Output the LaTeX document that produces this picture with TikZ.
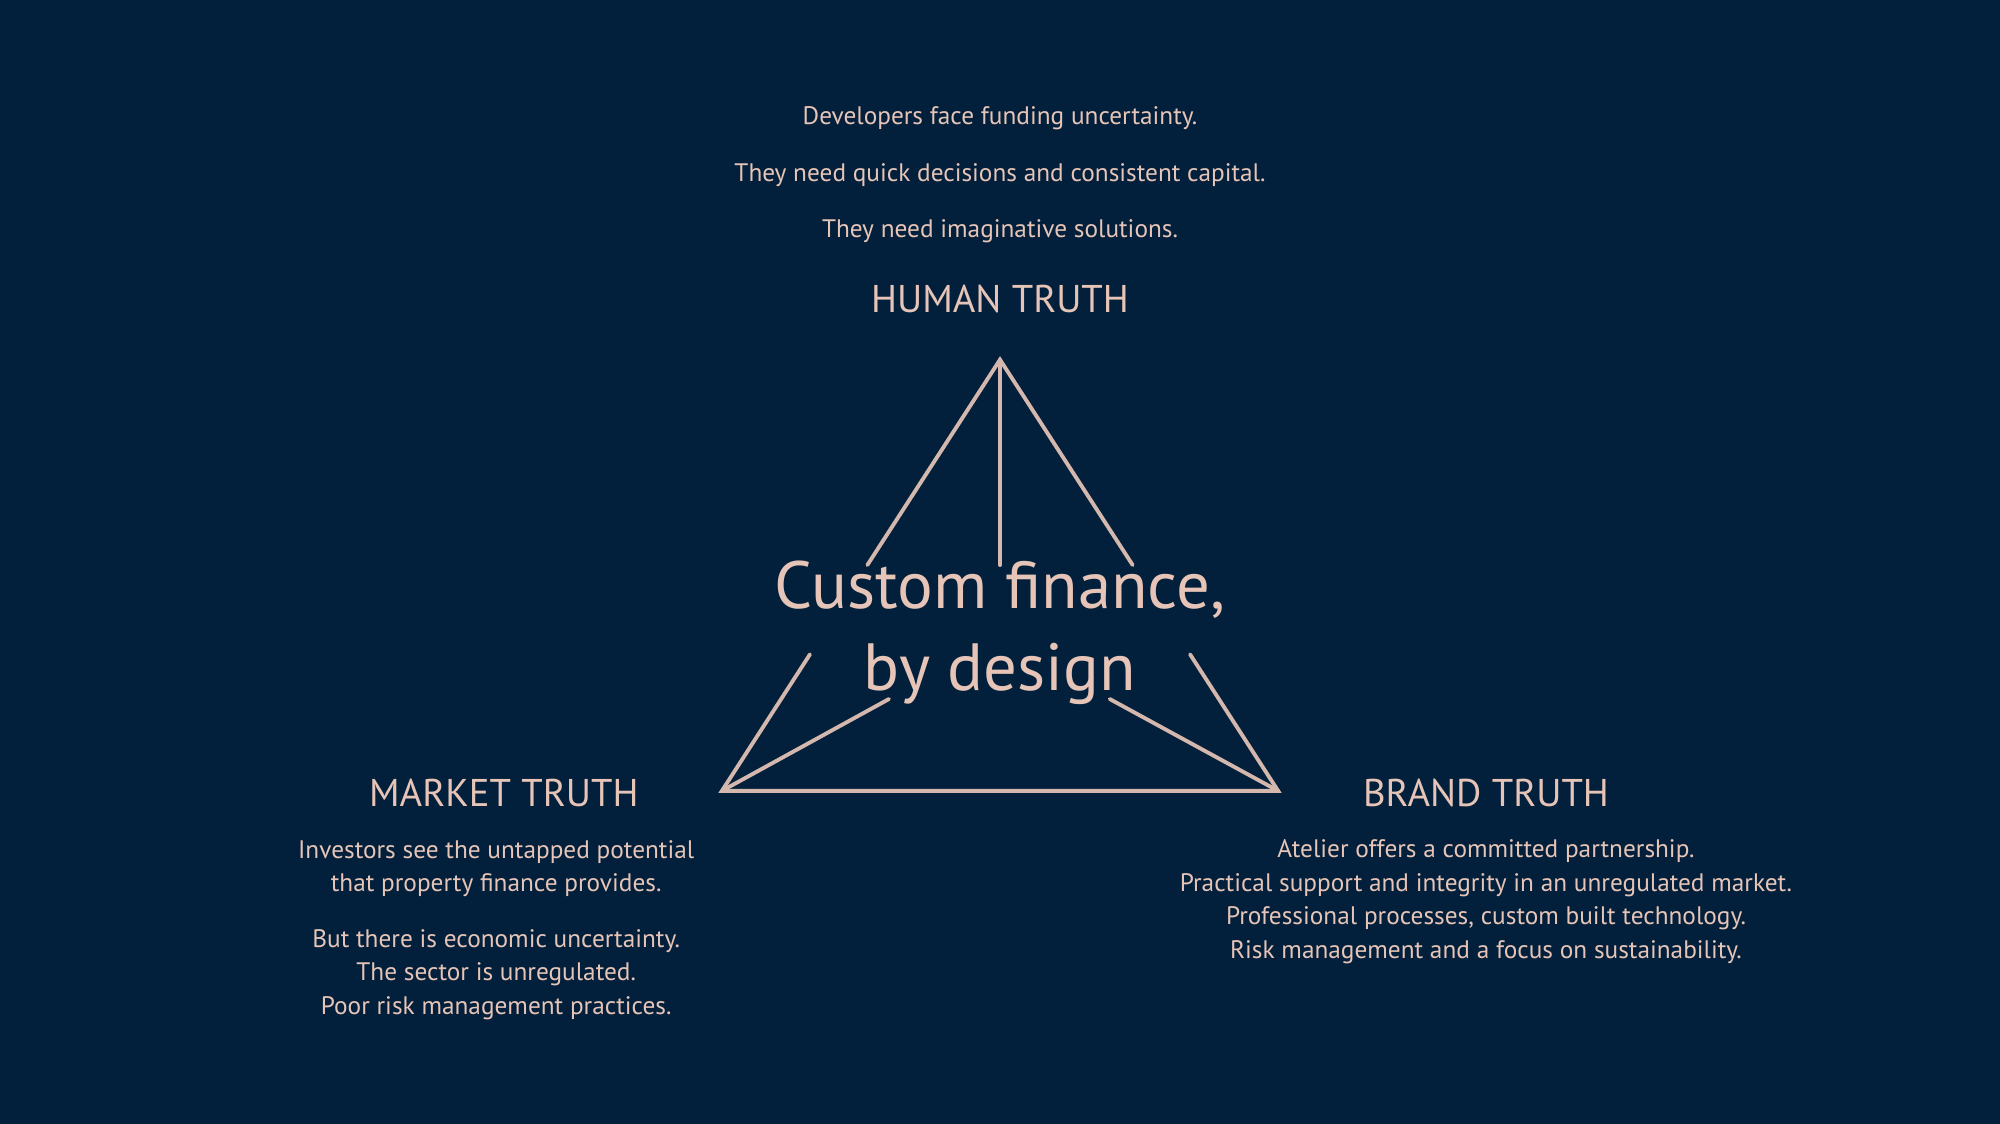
\documentclass[tikz,border=0pt]{standalone}
\usepackage{fontspec}
\setmainfont{PT Sans}
\definecolor{navy}{HTML}{02203B}
\definecolor{blush}{HTML}{E6C4B7}
\tikzset{
  body/.style={text=blush,align=center,font=\fontsize{7.2}{9.6}\selectfont,inner sep=0pt},
  head/.style={text=blush,font=\fontsize{11}{13}\selectfont,inner sep=0pt},
  edge/.style={draw=blush!92!navy,line width=1.1pt,line cap=round}
}
\begin{document}
\begin{tikzpicture}[x=0.012755cm,y=-0.012755cm]
  \fill[navy] (0,0) rectangle (1568,881);
  \useasboundingbox (0,0) rectangle (1568,881);

  % Texts
  \node[body] (h1) at (784,93) {Developers face funding uncertainty.};
  \node[body] (h2) at (784,137) {They need quick decisions and consistent capital.};
  \node[body] (h3) at (784,181) {They need imaginative solutions.};
  \node[head] (human) at (784,234) {HUMAN TRUTH};
  \node[head] (market) at (395,622) {MARKET TRUTH};
  \node[head] (brand) at (1165,622) {BRAND TRUTH};
  \node[body] (m1) at (389,681) {Investors see the untapped potential\\that property finance provides.};
  \node[body] (m2) at (389,764) {But there is economic uncertainty.\\The sector is unregulated.\\Poor risk management practices.};
  \node[body] (b1) at (1165,707) {Atelier offers a committed partnership.\\Practical support and integrity in an unregulated market.\\Professional processes, custom built technology.\\Risk management and a focus on sustainability.};
  \node[text=blush,align=center,font=\fontsize{19}{23.5}\selectfont,inner sep=0pt] (core) at (784,496) {Custom finance,\\by design};

  % Triangle
  \coordinate (top) at (784,282);
  \coordinate (left) at (566,620);
  \coordinate (right) at (1002,620);
  \coordinate (t1) at (680,443);
  \coordinate (t2) at (784,443);
  \coordinate (t3) at (888,443);
  \coordinate (l1) at (635,513);
  \coordinate (l2) at (697,548);
  \coordinate (r1) at (933,513);
  \coordinate (r2) at (870,548);
  \draw[edge] (t1) -- (top) -- (t3);
  \draw[edge] (top) -- (t2);
  \draw[edge] (l1) -- (left) -- (right) -- (r1);
  \draw[edge] (l2) -- (left);
  \draw[edge] (r2) -- (right);
\end{tikzpicture}
\end{document}
